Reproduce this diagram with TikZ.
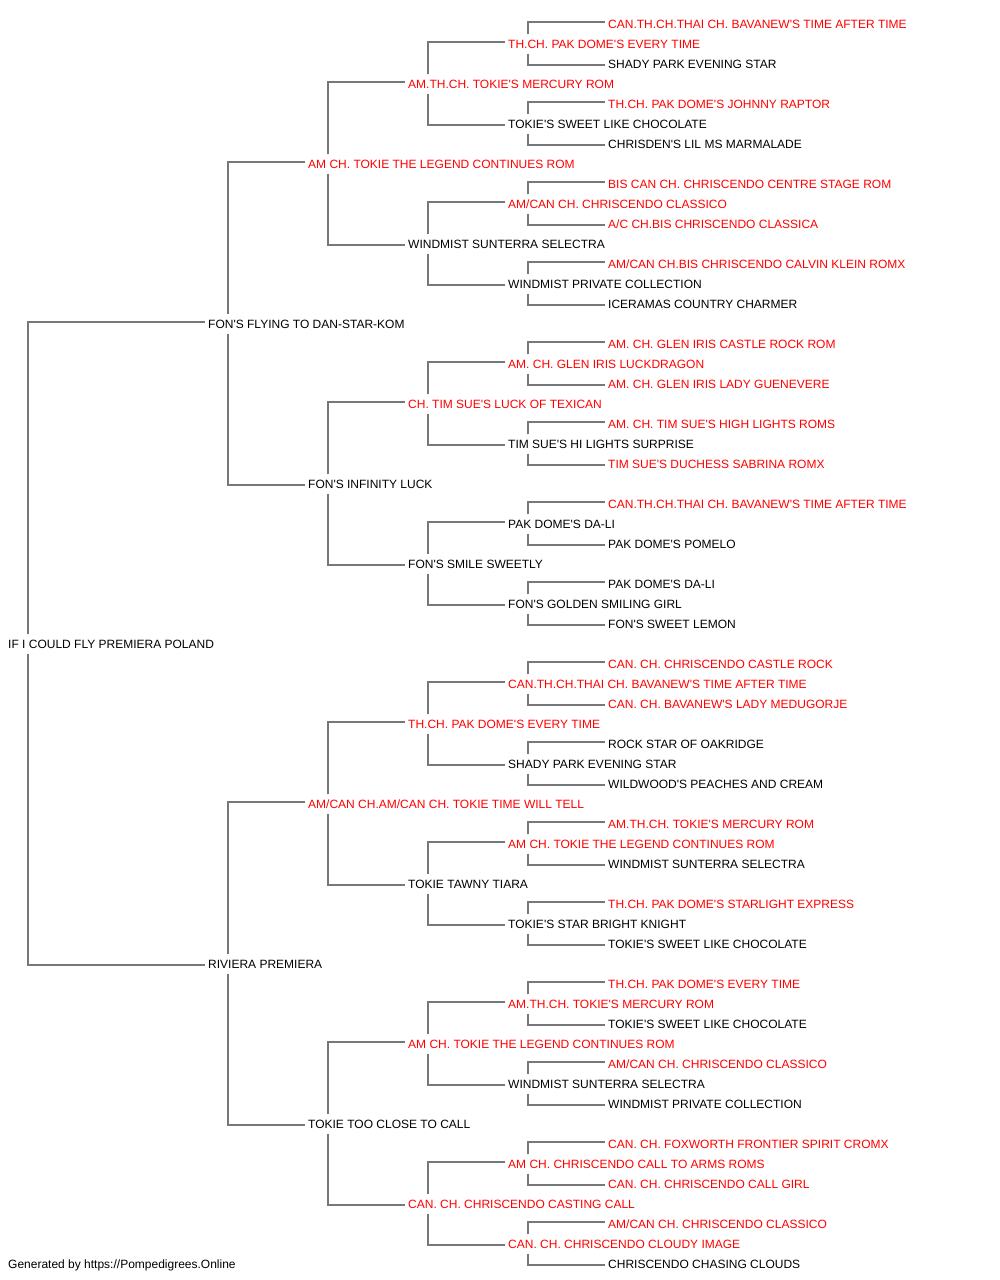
\documentclass[tikz,border=0pt]{standalone}
\usepackage{fontspec}
\setmainfont{Liberation Sans}[Ligatures=TeXOff]
\usepackage{tikz}
\definecolor{linegray}{HTML}{777777}
\definecolor{titlered}{HTML}{FF0000}

\begin{document}
\begin{tikzpicture}[x=1pt,y=-1pt,
  pet/.style={anchor=west,inner xsep=0pt,inner ysep=0pt,minimum height=19pt,
    text height=8.7pt,text depth=0pt,font=\fontsize{12}{14}\selectfont},
  champ/.style={pet,text=titlered},
  link/.style={draw=linegray,line width=1.2pt}]
  \useasboundingbox (0,0) rectangle (1000,1280);

  % the dog
  \node[pet] (p) at (8,644) {IF I COULD FLY PREMIERA POLAND};

  % parents
  \node[pet] (ps) at (208,324) {FON'S FLYING TO DAN-STAR-KOM};
  \node[pet] (pd) at (208,964) {RIVIERA PREMIERA};

  % grandparents
  \node[champ] (pss) at (308,164) {AM CH. TOKIE THE LEGEND CONTINUES ROM};
  \node[pet] (psd) at (308,484) {FON'S INFINITY LUCK};
  \node[champ] (pds) at (308,804) {AM/CAN CH.AM/CAN CH. TOKIE TIME WILL TELL};
  \node[pet] (pdd) at (308,1124) {TOKIE TOO CLOSE TO CALL};

  % great-grandparents
  \node[champ] (psss) at (408,84) {AM.TH.CH. TOKIE'S MERCURY ROM};
  \node[pet] (pssd) at (408,244) {WINDMIST SUNTERRA SELECTRA};
  \node[champ] (psds) at (408,404) {CH. TIM SUE'S LUCK OF TEXICAN};
  \node[pet] (psdd) at (408,564) {FON'S SMILE SWEETLY};
  \node[champ] (pdss) at (408,724) {TH.CH. PAK DOME'S EVERY TIME};
  \node[pet] (pdsd) at (408,884) {TOKIE TAWNY TIARA};
  \node[champ] (pdds) at (408,1044) {AM CH. TOKIE THE LEGEND CONTINUES ROM};
  \node[champ] (pddd) at (408,1204) {CAN. CH. CHRISCENDO CASTING CALL};

  % 4th generation
  \node[champ] (pssss) at (508,44) {TH.CH. PAK DOME'S EVERY TIME};
  \node[pet] (psssd) at (508,124) {TOKIE'S SWEET LIKE CHOCOLATE};
  \node[champ] (pssds) at (508,204) {AM/CAN CH. CHRISCENDO CLASSICO};
  \node[pet] (pssdd) at (508,284) {WINDMIST PRIVATE COLLECTION};
  \node[champ] (psdss) at (508,364) {AM. CH. GLEN IRIS LUCKDRAGON};
  \node[pet] (psdsd) at (508,444) {TIM SUE'S HI LIGHTS SURPRISE};
  \node[pet] (psdds) at (508,524) {PAK DOME'S DA-LI};
  \node[pet] (psddd) at (508,604) {FON'S GOLDEN SMILING GIRL};
  \node[champ] (pdsss) at (508,684) {CAN.TH.CH.THAI CH. BAVANEW'S TIME AFTER TIME};
  \node[pet] (pdssd) at (508,764) {SHADY PARK EVENING STAR};
  \node[champ] (pdsds) at (508,844) {AM CH. TOKIE THE LEGEND CONTINUES ROM};
  \node[pet] (pdsdd) at (508,924) {TOKIE'S STAR BRIGHT KNIGHT};
  \node[champ] (pddss) at (508,1004) {AM.TH.CH. TOKIE'S MERCURY ROM};
  \node[pet] (pddsd) at (508,1084) {WINDMIST SUNTERRA SELECTRA};
  \node[champ] (pddds) at (508,1164) {AM CH. CHRISCENDO CALL TO ARMS ROMS};
  \node[champ] (pdddd) at (508,1244) {CAN. CH. CHRISCENDO CLOUDY IMAGE};

  % 5th generation
  \node[champ] (psssss) at (608,24) {CAN.TH.CH.THAI CH. BAVANEW'S TIME AFTER TIME};
  \node[pet] (pssssd) at (608,64) {SHADY PARK EVENING STAR};
  \node[champ] (psssds) at (608,104) {TH.CH. PAK DOME'S JOHNNY RAPTOR};
  \node[pet] (psssdd) at (608,144) {CHRISDEN'S LIL MS MARMALADE};
  \node[champ] (pssdss) at (608,184) {BIS CAN CH. CHRISCENDO CENTRE STAGE ROM};
  \node[champ] (pssdsd) at (608,224) {A/C CH.BIS CHRISCENDO CLASSICA};
  \node[champ] (pssdds) at (608,264) {AM/CAN CH.BIS CHRISCENDO CALVIN KLEIN ROMX};
  \node[pet] (pssddd) at (608,304) {ICERAMAS COUNTRY CHARMER};
  \node[champ] (psdsss) at (608,344) {AM. CH. GLEN IRIS CASTLE ROCK ROM};
  \node[champ] (psdssd) at (608,384) {AM. CH. GLEN IRIS LADY GUENEVERE};
  \node[champ] (psdsds) at (608,424) {AM. CH. TIM SUE'S HIGH LIGHTS ROMS};
  \node[champ] (psdsdd) at (608,464) {TIM SUE'S DUCHESS SABRINA ROMX};
  \node[champ] (psddss) at (608,504) {CAN.TH.CH.THAI CH. BAVANEW'S TIME AFTER TIME};
  \node[pet] (psddsd) at (608,544) {PAK DOME'S POMELO};
  \node[pet] (psddds) at (608,584) {PAK DOME'S DA-LI};
  \node[pet] (psdddd) at (608,624) {FON'S SWEET LEMON};
  \node[champ] (pdssss) at (608,664) {CAN. CH. CHRISCENDO CASTLE ROCK};
  \node[champ] (pdsssd) at (608,704) {CAN. CH. BAVANEW'S LADY MEDUGORJE};
  \node[pet] (pdssds) at (608,744) {ROCK STAR OF OAKRIDGE};
  \node[pet] (pdssdd) at (608,784) {WILDWOOD'S PEACHES AND CREAM};
  \node[champ] (pdsdss) at (608,824) {AM.TH.CH. TOKIE'S MERCURY ROM};
  \node[pet] (pdsdsd) at (608,864) {WINDMIST SUNTERRA SELECTRA};
  \node[champ] (pdsdds) at (608,904) {TH.CH. PAK DOME'S STARLIGHT EXPRESS};
  \node[pet] (pdsddd) at (608,944) {TOKIE'S SWEET LIKE CHOCOLATE};
  \node[champ] (pddsss) at (608,984) {TH.CH. PAK DOME'S EVERY TIME};
  \node[pet] (pddssd) at (608,1024) {TOKIE'S SWEET LIKE CHOCOLATE};
  \node[champ] (pddsds) at (608,1064) {AM/CAN CH. CHRISCENDO CLASSICO};
  \node[pet] (pddsdd) at (608,1104) {WINDMIST PRIVATE COLLECTION};
  \node[champ] (pdddss) at (608,1144) {CAN. CH. FOXWORTH FRONTIER SPIRIT CROMX};
  \node[champ] (pdddsd) at (608,1184) {CAN. CH. CHRISCENDO CALL GIRL};
  \node[champ] (pdddds) at (608,1224) {AM/CAN CH. CHRISCENDO CLASSICO};
  \node[pet] (pddddd) at (608,1264) {CHRISCENDO CHASING CLOUDS};

  % sire above, dam below
  \foreach \c/\a/\b in {p/ps/pd, ps/pss/psd, pd/pds/pdd,
      pss/psss/pssd, psd/psds/psdd, pds/pdss/pdsd, pdd/pdds/pddd,
      psss/pssss/psssd, pssd/pssds/pssdd, psds/psdss/psdsd, psdd/psdds/psddd,
      pdss/pdsss/pdssd, pdsd/pdsds/pdsdd, pdds/pddss/pddsd, pddd/pddds/pdddd,
      pssss/psssss/pssssd, psssd/psssds/psssdd, pssds/pssdss/pssdsd,
      pssdd/pssdds/pssddd, psdss/psdsss/psdssd, psdsd/psdsds/psdsdd,
      psdds/psddss/psddsd, psddd/psddds/psdddd, pdsss/pdssss/pdsssd,
      pdssd/pdssds/pdssdd, pdsds/pdsdss/pdsdsd, pdsdd/pdsdds/pdsddd,
      pddss/pddsss/pddssd, pddsd/pddsds/pddsdd, pddds/pdddss/pdddsd,
      pdddd/pdddds/pddddd} {
    \draw[link] ([xshift=20pt]\c.north west) |- ([xshift=-3pt,yshift=2pt]\a.west);
    \draw[link] ([xshift=20pt]\c.south west) |- ([xshift=-3pt,yshift=-1pt]\b.west);
  }

  \node[pet] (credit) at (8,1264) {Generated by https://Pompedigrees.Online};
\end{tikzpicture}
\end{document}
